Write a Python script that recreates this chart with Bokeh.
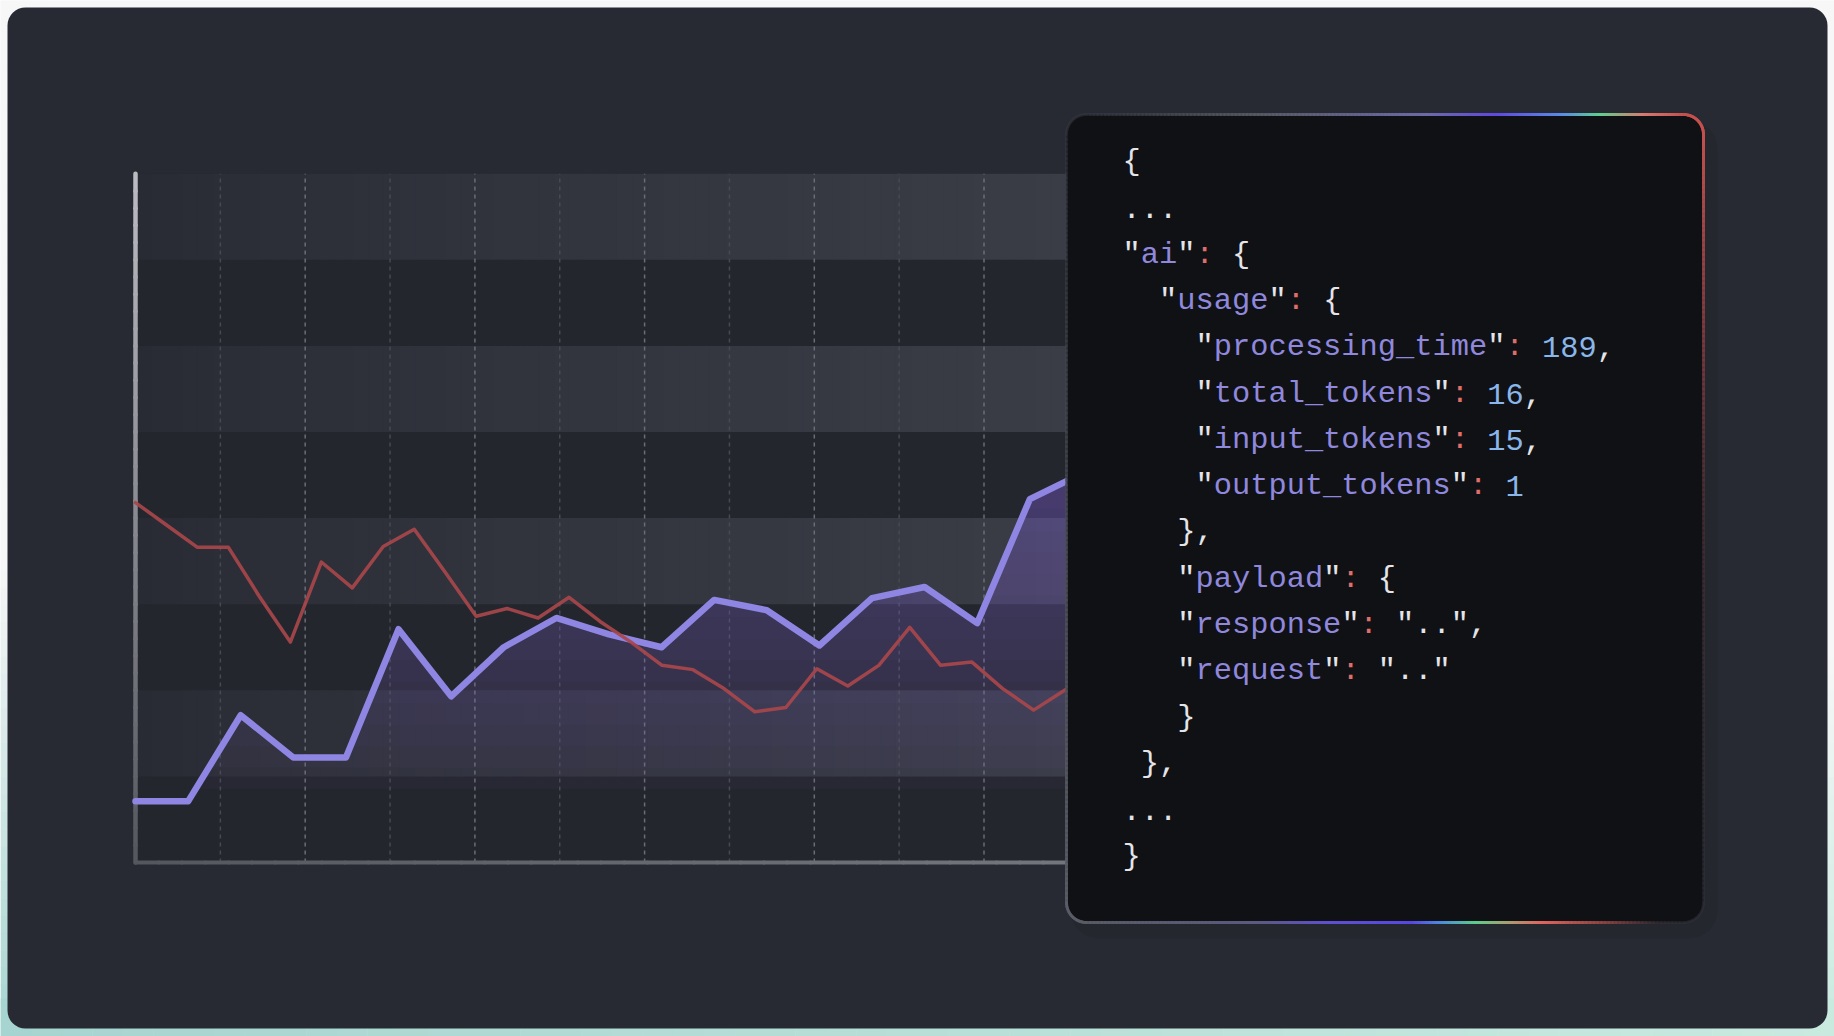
import numpy as np
from bokeh.plotting import figure
from bokeh.models import Range1d, BoxAnnotation, Label
from bokeh.embed import file_html
from bokeh.resources import INLINE

# ---------------- data ----------------
purple_step = 0.62          # sample spacing of the purple series (grid units)
purple_values = [0.71, 0.71, 1.71, 1.22, 1.22, 2.71, 1.93, 2.50, 2.84, 2.65,
                 2.50, 3.05, 2.93, 2.52, 3.07, 3.20, 2.78, 4.22, 4.52]
red_step = 0.365            # sample spacing of the red series (grid units)
red_values = [4.18, 3.92, 3.66, 3.66, 3.09, 2.56, 3.49, 3.19, 3.67, 3.87,
              3.37, 2.86, 2.95, 2.84, 3.08, 2.80, 2.56, 2.29, 2.24, 2.02,
              1.75, 1.80, 2.25, 2.05, 2.29, 2.73, 2.29, 2.33, 2.02, 1.77,
              2.00, 2.20]
grid_positions = [1, 2, 3, 4, 5, 6, 7, 8, 9, 10]
bright_grid = [2, 4, 6, 8, 10]
band_starts = [1, 3, 5, 7]
y_max = 8

json_lines = [
    '{',
    '...',
    '"ai": {',
    '  "usage": {',
    '    "processing_time": 189,',
    '    "total_tokens": 16,',
    '    "input_tokens": 15,',
    '    "output_tokens": 1',
    '   },',
    '   "payload": {',
    '   "response": "..",',
    '   "request": ".."',
    '   }',
    ' },',
    '...',
    '}',
]

# ---------------- layout (canvas px, y downwards) ----------------
W, H = 1834, 1036
X0, Y0 = 135.0, 862.0      # chart origin on the canvas
UX, UY = 84.85, 86.1       # px per grid unit / per band
PL, PR, PT, PB, PRAD = 1066, 1703, 114, 922, 20   # code panel
X_VIS = (PL - X0) / UX
CL, CR, CT, CB = 7, 1827, 7, 1028                 # card

CARD = "#282a33"
PANEL = "#0f1115"


def h2r(h):
    return np.array([int(h[i:i + 2], 16) for i in (1, 3, 5)], dtype=float)


def r2h(c):
    c = np.clip(np.round(c), 0, 255).astype(int)
    return "#%02x%02x%02x" % tuple(c)


def lerp_col(a, b, t):
    return r2h(h2r(a) * (1 - t) + h2r(b) * t)


def stop_interp(stops, s):
    pos = [q[0] for q in stops]
    cols = np.array([h2r(q[1]) for q in stops])
    al = [q[2] for q in stops]
    c = [np.interp(s, pos, cols[:, k]) for k in range(3)]
    return r2h(np.array(c)), float(np.interp(s, pos, al))


p = figure(width=W, height=H, x_range=Range1d(0, W), y_range=Range1d(H, 0),
           output_backend="svg", toolbar_location=None, min_border=0,
           x_axis_location=None, y_axis_location=None,
           background_fill_color="#f7f7f7", border_fill_color="#f7f7f7",
           outline_line_color=None)
p.grid.visible = False
p.extra_x_ranges = {"c": Range1d(-X0 / UX, (W - X0) / UX)}
p.extra_y_ranges = {"c": Range1d((Y0 - H) / UY, Y0 / UY)}
C = dict(x_range_name="c", y_range_name="c")

# page background tint behind the card (teal towards the bottom)
ns = 60
ye = np.linspace(0, H, ns + 1)
lc = [lerp_col("#f7f7f7", "#a6d4d0", min(max((0.5 * (ye[i] + ye[i + 1]) - 560) / 476, 0), 1)) for i in range(ns)]
rc = [lerp_col("#f7f7f7", "#c8eadf", min(max((0.5 * (ye[i] + ye[i + 1]) - 650) / 386, 0), 1)) for i in range(ns)]
r1 = p.quad(left=[0] * ns, right=[40] * ns, top=ye[:-1], bottom=ye[1:] + 0.5, fill_color=lc, line_color=None)
r2 = p.quad(left=[W - 40] * ns, right=[W] * ns, top=ye[:-1], bottom=ye[1:] + 0.5, fill_color=rc, line_color=None)
xe = np.linspace(0, W, ns + 1)
bcol = [lerp_col("#a6d4d0", "#c8eadf", 0.5 * (xe[i] + xe[i + 1]) / W) for i in range(ns)]
r3 = p.quad(left=xe[:-1], right=xe[1:] + 0.5, top=[CB - 30] * ns, bottom=[H] * ns, fill_color=bcol, line_color=None)
for r in (r1, r2, r3):
    r.level = "image"

# card + panel shadow
p.add_layout(BoxAnnotation(left=CL, right=CR, top=CT, bottom=CB, fill_color=CARD,
                           fill_alpha=1, line_color=None, border_radius=18, level="underlay"))
p.add_layout(BoxAnnotation(left=PL + 4, right=PR + 14, top=PT + 6, bottom=PB + 16,
                           fill_color="#000000", fill_alpha=0.07, line_color=None,
                           border_radius=28, level="underlay"))

# chart background and light bands with horizontal fade
p.quad(left=0, right=X_VIS, bottom=0, top=y_max, fill_color="#24262e", line_color=None, **C)
nsl = 60
edges = np.linspace(0, X_VIS, nsl + 1)
for b in band_starts:
    cols = [lerp_col("#292b34", "#3a3c46", (0.5 * (edges[i] + edges[i + 1]) / X_VIS) ** 0.8)
            for i in range(nsl)]
    p.quad(left=edges[:-1], right=edges[1:] + 0.01, bottom=[b] * nsl, top=[b + 1] * nsl,
           fill_color=cols, line_color=None, **C)

# vertical dashed grid
for g in grid_positions:
    bright = g in bright_grid
    p.segment(x0=[g], y0=[0], x1=[g], y1=[y_max],
              line_color="#6a6c76" if bright else "#474952",
              line_width=1.5, line_dash="4 4", **C)

# purple area with vertical gradient
purple_x = np.arange(len(purple_values)) * purple_step
red_x = np.arange(len(red_values)) * red_step
xd = np.linspace(0, purple_x[-1], 1400)
yd = np.interp(xd, purple_x, purple_values)
for lev in np.arange(0.85, 4.8, 0.25):
    y1 = np.minimum(lev, yd)
    p.varea(x=xd, y1=y1, y2=yd, fill_color="#7a70d8", fill_alpha=0.038, **C)

# axes lines
na = 40
vs = np.linspace(y_max, 0, na + 1)
p.segment(x0=[0] * na, y0=vs[:-1], x1=[0] * na, y1=vs[1:],
          line_color=[lerp_col("#bcbdc3", "#55575f", (i + 0.5) / na) for i in range(na)],
          line_width=4.5, line_cap="round", **C)
xs = np.linspace(0, X_VIS, na + 1)
p.segment(x0=xs[:-1], y0=[0] * na, x1=xs[1:], y1=[0] * na,
          line_color=[lerp_col("#55575f", "#74767d", (i + 0.5) / na) for i in range(na)],
          line_width=4, line_cap="round", **C)

# series
p.line(purple_x, purple_values, line_color="#8e86e2", line_width=6.5,
       line_join="round", line_cap="round", **C)
p.line(red_x, red_values, line_color="#a8474b", line_alpha=0.92, line_width=3.5,
       line_join="round", line_cap="round", **C)

# code panel
p.add_layout(BoxAnnotation(left=PL, right=PR, top=PT, bottom=PB, fill_color=PANEL,
                           fill_alpha=1, line_color=None, border_radius=PRAD))

# gradient border of the panel
bx0, by0, bx1, by1, bc, ba = [], [], [], [], [], []


def add_edge(pts, colfun):
    for i in range(len(pts) - 1):
        (xa, ya), (xb, yb) = pts[i], pts[i + 1]
        c, a = colfun(i, 0.5 * (xa + xb), 0.5 * (ya + yb))
        bx0.append(xa); by0.append(ya); bx1.append(xb); by1.append(yb)
        bc.append(c); ba.append(a)


def arc_pts(cx, cy, a0, a1, n=16):
    th = np.radians(np.linspace(a0, a1, n))
    return list(zip(cx + PRAD * np.cos(th), cy - PRAD * np.sin(th)))


top_stops = [(PL + PRAD, "#3c3e47", 0.35), (1258, "#5a5c66", 0.8), (1428, "#6c6aa8", 1),
             (1496, "#6048e0", 1), (1563, "#5a8ce6", 1), (1600, "#5ed08e", 1),
             (1644, "#d87a70", 1), (PR - PRAD, "#c4514e", 1)]
right_stops = [(PT + PRAD, "#c4514e", 1), (308, "#8a3e42", 0.8), (528, "#4a3036", 0.5),
               (PB - PRAD, "#34363e", 0.3)]
bot_stops = [(PL + PRAD, "#5a5c66", 0.9), (1258, "#5c5a80", 1), (1328, "#5e50d0", 1),
             (1413, "#5848e2", 1), (1440, "#4c88e0", 1), (1476, "#5ccc8c", 1),
             (1508, "#a8a070", 1), (1543, "#e0645e", 1), (1608, "#8a4442", 0.8),
             (1658, "#3a3036", 0.4), (PR - PRAD, "#34363e", 0.3)]
left_stops = [(PT + PRAD, "#3a3c45", 0.3), (508, "#4a4c55", 0.6), (PB - PRAD, "#5a5c66", 0.9)]

n = 160
tx = np.linspace(PL + PRAD, PR - PRAD, n + 1)
add_edge(list(zip(tx, [PT] * (n + 1))), lambda i, x, y: stop_interp(top_stops, x))
add_edge(list(zip(tx, [PB] * (n + 1))), lambda i, x, y: stop_interp(bot_stops, x))
ty = np.linspace(PT + PRAD, PB - PRAD, n + 1)
add_edge(list(zip([PR] * (n + 1), ty)), lambda i, x, y: stop_interp(right_stops, y))
add_edge(list(zip([PL] * (n + 1), ty)), lambda i, x, y: stop_interp(left_stops, y))
add_edge(arc_pts(PR - PRAD, PT + PRAD, 90, 0), lambda i, x, y: ("#c4514e", 1))
add_edge(arc_pts(PR - PRAD, PB - PRAD, 0, -90), lambda i, x, y: ("#34363e", 0.3))
add_edge(arc_pts(PL + PRAD, PB - PRAD, -90, -180), lambda i, x, y: ("#5a5c66", 0.9))
add_edge(arc_pts(PL + PRAD, PT + PRAD, 180, 90), lambda i, x, y: ("#3a3c45", 0.3))
rb = p.segment(x0=bx0, y0=by0, x1=bx1, y1=by1, line_color=bc, line_alpha=ba,
               line_width=3, line_cap="round")
rb.level = "overlay"

# JSON text
FONT = "Liberation Mono"
FS = 30.4
CW = 0.6 * FS
TX, TY, LH = 1122, 161.5, 46.3
COLORS = {"w": "#e4e4e9", "k": "#9088dd", "c": "#e06e6a", "n": "#8ab6ea"}


def cls(ch):
    if ch.isalpha() or ch == "_":
        return "k"
    if ch.isdigit():
        return "n"
    if ch == ":":
        return "c"
    return "w"


for li, line in enumerate(json_lines):
    runs = []
    for ci, ch in enumerate(line):
        k = cls(ch)
        if ch == " ":
            continue
        if runs and runs[-1][2] == k and line[ci - 1] != " ":
            runs[-1][1] += ch
        else:
            runs.append([ci, ch, k])
    for ci, txt, k in runs:
        p.add_layout(Label(x=TX + ci * CW, y=TY + li * LH, text=txt,
                           text_font=FONT, text_font_size=f"{FS}px",
                           text_color=COLORS[k], text_baseline="middle",
                           text_align="left", level="overlay"))

open("out.html", "w").write(file_html(p, INLINE))
